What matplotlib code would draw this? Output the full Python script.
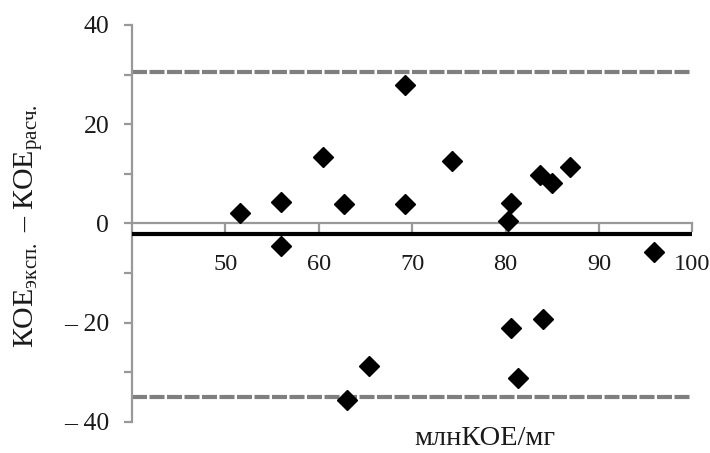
import numpy as np
import matplotlib
matplotlib.use('Agg')
import matplotlib.pyplot as plt

plt.rcParams['font.family'] = ['Liberation Serif', 'DejaVu Serif']
plt.rcParams['mathtext.fontset'] = 'custom'
plt.rcParams['mathtext.rm'] = 'Liberation Serif'
plt.rcParams['mathtext.it'] = 'Liberation Serif:italic'

# среднее значение (млнКОЕ/мг) и разность КОЕ экспериментальное - расчетное
mean_vals = [51.6, 55.9, 56.0, 60.5, 62.7, 63.0, 65.4, 69.2, 69.2, 74.3,
             80.3, 80.6, 80.6, 81.3, 83.7, 84.0, 85.0, 86.9, 95.9]
diff_vals = [2.0, 4.2, -4.6, 13.3, 3.9, -35.6, -28.7, 27.8, 3.8, 12.6,
             0.5, 4.0, -21.2, -31.1, 9.7, -19.2, 8.2, 11.4, -5.8]

bias = -2.1
upper_loa = 30.6
lower_loa = -35.0

x_ticks = [50, 60, 70, 80, 90, 100]
y_ticks = [-40, -30, -20, -10, 0, 10, 20, 30, 40]
y_tick_labels = ['\u2013 40', '', '\u2013 20', '', '0', '', '20', '', '40']

fig = plt.figure(figsize=(7.1, 4.53), dpi=100)
ax = fig.add_axes([0.186, 0.069, 0.789, 0.876])
ax.set_xlim(40, 100)
ax.set_ylim(-40, 40)

axis_gray = '#999999'

# границы согласия
for lim in (upper_loa, lower_loa):
    ax.plot([40, 100], [lim, lim], color='#7f7f7f', linewidth=3.0,
            dashes=(3.6, 0.6), solid_capstyle='butt', dash_capstyle='butt',
            zorder=2, clip_on=False)

# среднее смещение
ax.plot([40, 100], [bias, bias], color='black', linewidth=3.0,
        solid_capstyle='butt', zorder=3, clip_on=False)

ax.plot(mean_vals, diff_vals, linestyle='none', marker='D', markersize=10,
        color='black', zorder=4, clip_on=False)

for side in ('top', 'right'):
    ax.spines[side].set_visible(False)
ax.spines['left'].set_color(axis_gray)
ax.spines['left'].set_linewidth(1.6)
ax.spines['bottom'].set_position(('data', 0))
ax.spines['bottom'].set_color(axis_gray)
ax.spines['bottom'].set_linewidth(1.6)

ax.set_xticks(x_ticks)
ax.set_xticklabels([str(v) for v in x_ticks])
ax.set_yticks(y_ticks)
ax.set_yticklabels(y_tick_labels)

ax.tick_params(axis='x', direction='out', length=6.8, width=1.6, color=axis_gray,
               pad=15.5, labelsize=17.6, labelcolor='#1a1a1a')
ax.tick_params(axis='y', direction='out', length=5.5, width=1.6, color=axis_gray,
               pad=11, labelsize=18.5, labelcolor='#1a1a1a')

fig.text(0.040, 0.50,
         'КОЕ$_{\\mathregular{эксп.}}$ \u2013 КОЕ$_{\\mathregular{расч.}}$',
         rotation=90, ha='center', va='center', fontsize=21.5, color='#1a1a1a')
fig.text(0.683, 0.033, 'млнКОЕ/мг', ha='center', va='center',
         fontsize=20.5, color='#1a1a1a')

fig.savefig('out.png', dpi=100)
